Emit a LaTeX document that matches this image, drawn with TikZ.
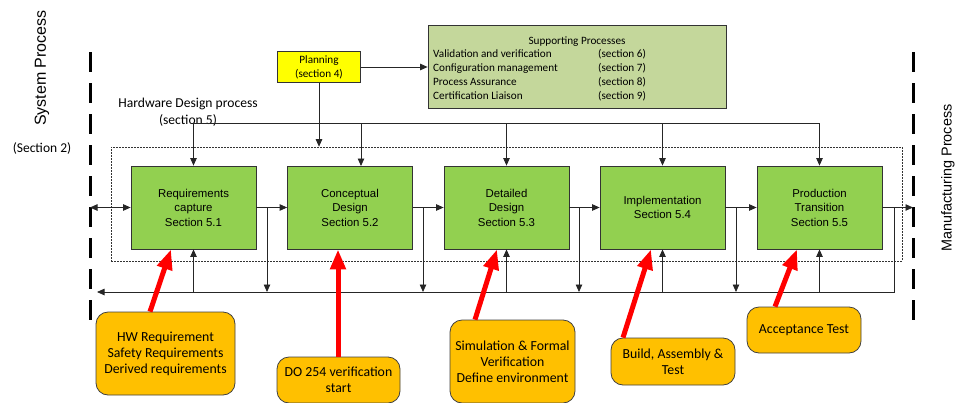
\documentclass[tikz,border=0pt]{standalone}
\usepackage{fontspec}
\setmainfont{Carlito}
\newfontfamily\arialf{Liberation Sans}
\usetikzlibrary{arrows.meta,calc}
\definecolor{stagegreen}{HTML}{92D050}
\definecolor{noteorange}{HTML}{FFC000}
\definecolor{planyellow}{HTML}{FFFF00}
\definecolor{supgreen}{HTML}{C4D79B}
\begin{document}
\begin{tikzpicture}[x=1pt,y=-1pt,
  stage/.style={draw=black!80, fill=stagegreen, minimum width=125pt, minimum height=83pt,
    inner sep=0pt, align=center, font=\arialf\fontsize{11.4}{14.5}\selectfont, line width=0.8pt},
  note/.style={draw=black!75, fill=noteorange, rounded corners=12pt, align=center,
    font=\fontsize{13.8}{16}\selectfont, inner sep=0pt, line width=0.8pt},
  link/.style={draw=black!85, line width=0.8pt},
  arr/.style={link, -{Triangle[length=7.5pt,width=6.5pt]}},
  dblarr/.style={link, {Triangle[length=7.5pt,width=6.5pt]}-{Triangle[length=7.5pt,width=6.5pt]}},
  redarr/.style={draw=red, line width=5pt, -{Triangle[length=20pt,width=15pt]}},
  bigdash/.style={draw=black, line width=3pt, dash pattern=on 20pt off 11pt},
  suptext/.style={font=\fontsize{11.2}{14}\selectfont, inner sep=0pt, anchor=base west},
  sidetext/.style={font=\arialf\fontsize{15}{18}\selectfont, rotate=90, inner sep=0pt}
]
\useasboundingbox (0,0) rectangle (955,402);

% system / manufacturing boundaries
\draw[bigdash] (90,52) -- (90,325);
\draw[bigdash] (913,52) -- (913,325);
\node[sidetext, font=\arialf\fontsize{16}{18}\selectfont] (sysproc) at (42,68) {System Process};
\node[font=\fontsize{13.5}{16}\selectfont, inner sep=0pt] (sec2) at (42,148) {(Section 2)};
\node[sidetext, font=\arialf\fontsize{14.4}{18}\selectfont] (mfgproc) at (948,178) {Manufacturing Process};

% hardware design process frame
\node[draw=black!80, line width=0.6pt, dash pattern=on 2pt off 1pt,
      minimum width=791pt, minimum height=114pt, inner sep=0pt] (hw) at (506.5,204) {};
\node[font=\fontsize{13.6}{17}\selectfont, align=center, inner sep=0pt] (hwlabel) at (188,112)
  {Hardware Design process\\(section 5)};

% planning and supporting processes
\node[draw=black!80, fill=planyellow, minimum width=83pt, minimum height=31pt, inner sep=0pt,
      align=center, font=\fontsize{11.2}{14}\selectfont, line width=0.8pt] (plan) at (319,67)
  {Planning\\(section 4)};
\node[draw=black!80, fill=supgreen, minimum width=298pt, minimum height=83pt, inner sep=0pt,
      line width=0.8pt] (sup) at (577,66.5) {};
\node[font=\fontsize{11.2}{14}\selectfont, inner sep=0pt, anchor=base] (suptitle) at (577,44.5) {Supporting Processes};
\node[suptext] (s1) at (433,57.5) {Validation and verification};
\node[suptext] (s2) at (433,71.5) {Configuration management};
\node[suptext] (s3) at (433,85.5) {Process Assurance};
\node[suptext] (s4) at (433,99.5) {Certification Liaison};
\node[suptext] (r1) at (598,57.5) {(section 6)};
\node[suptext] (r2) at (598,71.5) {(section 7)};
\node[suptext] (r3) at (598,85.5) {(section 8)};
\node[suptext] (r4) at (598,99.5) {(section 9)};

% design stages
\node[stage] (b1) at (193.5,207.5) {Requirements\\capture\\Section 5.1};
\node[stage] (b2) at (350,207.5) {Conceptual\\Design\\Section 5.2};
\node[stage] (b3) at (506.5,207.5) {Detailed\\Design\\Section 5.3};
\node[stage] (b4) at (662.5,207.5) {Implementation\\Section 5.4};
\node[stage] (b5) at (819.5,207.5) {Production\\Transition\\Section 5.5};

% bus lines and junctions
\coordinate (topL) at (193.5,123);
\coordinate (topR) at (819.5,123);
\coordinate (top2) at (361,123);
\coordinate (in2) at (361,166);
\coordinate (sysL) at (90,207.5);
\coordinate (mfgR) at (913,207.5);
\coordinate (botR) at (894,292);
\coordinate (botL) at (97,292);
\coordinate (j1) at (267,207.5);  \coordinate (d1) at (267,292);
\coordinate (j2) at (423,207.5);  \coordinate (d2) at (423,292);
\coordinate (j3) at (579,207.5);  \coordinate (d3) at (579,292);
\coordinate (j4) at (736,207.5);  \coordinate (d4) at (736,292);
\coordinate (j5) at (894,207.5);

\draw[arr] (plan.east) -- (plan.east -| sup.west);
\draw[arr] (plan.south) -- (plan.south |- hw.north);

\draw[link] (topL) -- (topR);
\draw[arr] (topL) -- (b1.north);
\draw[arr] (top2) -- (in2);
\draw[arr] (b3.north |- topL) -- (b3.north);
\draw[arr] (b4.north |- topL) -- (b4.north);
\draw[arr] (topR) -- (b5.north);

\draw[dblarr] (sysL) -- (b1.west);
\draw[arr] (b1.east) -- (b2.west);
\draw[arr] (b2.east) -- (b3.west);
\draw[arr] (b3.east) -- (b4.west);
\draw[arr] (b4.east) -- (b5.west);
\draw[arr] (b5.east) -- (mfgR);

\draw[arr] (j1) -- (d1);
\draw[arr] (j2) -- (d2);
\draw[arr] (j3) -- (d3);
\draw[arr] (j4) -- (d4);

\draw[arr] (j5) -- (botR) -- (botL);

\draw[arr] (b1.south |- botR) -- (b1.south);
\draw[arr] (b3.south |- botR) -- (b3.south);
\draw[arr] (b4.south |- botR) -- (b4.south);
\draw[arr] (b5.south |- botR) -- (b5.south);

% callouts
\node[note, minimum width=139pt, minimum height=83pt] (c1) at (165.5,353.5)
  {HW Requirement\\Safety Requirements\\Derived requirements};
\node[note, minimum width=123pt, minimum height=46pt] (c2) at (338.5,380)
  {DO 254 verification\\start};
\node[note, minimum width=125pt, minimum height=83pt] (c3) at (512.5,361.5)
  {Simulation \& Formal\\Verification\\Define environment};
\node[note, minimum width=124pt, minimum height=47pt] (c4) at (673,361.5)
  {Build, Assembly \&\\Test};
\node[note, minimum width=114pt, minimum height=46pt] (c5) at (804,330)
  {Acceptance Test};

\draw[redarr] ($(c1.north)+(-15.5,0)$) -- ($(b1.south)+(-22.5,0)$);
\draw[redarr] ($(c2.north)+(-0.5,0)$) -- ($(b2.south)+(-12,0)$);
\draw[redarr] ($(c3.north)+(-37.5,0)$) -- ($(b3.south)+(-9.5,0)$);
\draw[redarr] ($(c4.north)+(-50,0)$) -- ($(b4.south)+(-11.5,0)$);
\draw[redarr] ($(c5.north)+(-29,0)$) -- ($(b5.south)+(-22.5,0)$);
\end{tikzpicture}
\end{document}
